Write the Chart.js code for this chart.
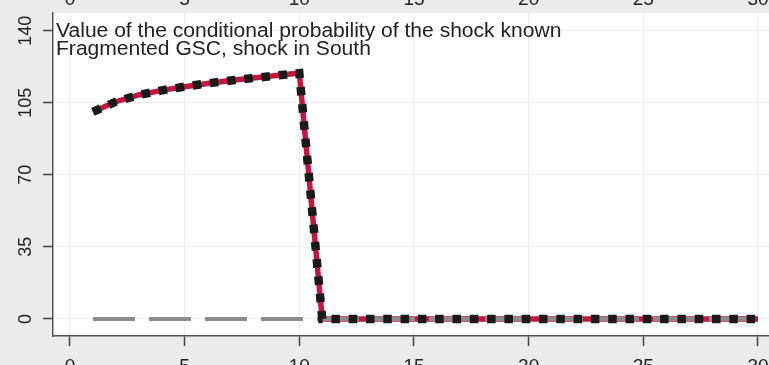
<!DOCTYPE html>
<html>
<head>
<meta charset="utf-8">
<script src="https://cdn.jsdelivr.net/npm/chart.js@4.4.1/dist/chart.umd.min.js"></script>
<style>
    html, body { margin: 0; padding: 0; background: #ebebeb; }
    #grafico { display: block; }
</style>
</head>
<body>
<canvas id="grafico" width="769" height="365"></canvas>
<script>
// Periodos (eje x)
const periodos = [1, 2, 3, 4, 5, 6, 7, 8, 9, 10, 11, 12, 13, 14, 15, 16, 17, 18, 19, 20, 21, 22, 23, 24, 25, 26, 27, 28, 29, 30]

// Valor de la probabilidad condicional, shock conocido
const valorShockConocido = [100.6, 105.5, 108.8, 111.0, 112.8, 114.4, 115.8, 117.0, 118.2, 119.4,
    0, 0, 0, 0, 0, 0, 0, 0, 0, 0, 0, 0, 0, 0, 0, 0, 0, 0, 0, 0]

// Linea de referencia (gris discontinua)
const valorReferencia = [0, 0, 0, 0, 0, 0, 0, 0, 0, 0, 0, 0, 0, 0, 0, 0, 0, 0, 0, 0, 0, 0, 0, 0, 0, 0, 0, 0, 0, 0]

const ticksX = [0, 5, 10, 15, 20, 25, 30]
const ticksY = [0, 35, 70, 105, 140]

const tituloLineas = ['Value of the conditional probability of the shock known', 'Fragmented GSC, shock in South']

const fuente = '"Liberation Sans", Arial, Helvetica, sans-serif'

const puntos = (valores) => periodos.map((p, i) => ({ x: p, y: valores[i] }))

//Fondo blanco del area del grafico
const fondoPlugin = {
    id: 'fondo',
    beforeDraw(chart) {
        const { ctx, chartArea } = chart
        ctx.save()
        ctx.fillStyle = '#ffffff'
        ctx.fillRect(chartArea.left, chartArea.top, chartArea.right - chartArea.left, chartArea.bottom - chartArea.top)
        ctx.restore()
    }
}

//Titulo dentro del grafico y etiquetas del eje y giradas
const textosPlugin = {
    id: 'textos',
    afterDraw(chart) {
        const { ctx, chartArea } = chart
        const escalaY = chart.scales.y

        ctx.save()
        ctx.fillStyle = '#222222'
        ctx.font = '18px ' + fuente
        ctx.textAlign = 'center'
        ctx.textBaseline = 'alphabetic'
        escalaY.ticks.forEach(t => {
            const y = escalaY.getPixelForValue(t.value)
            ctx.save()
            ctx.translate(30.5, y)
            ctx.rotate(-Math.PI / 2)
            ctx.fillText(String(t.value), 0, 0)
            ctx.restore()
        })
        ctx.restore()

        ctx.save()
        ctx.fillStyle = '#222222'
        ctx.font = '19.5px ' + fuente
        ctx.textAlign = 'left'
        ctx.textBaseline = 'alphabetic'
        tituloLineas.forEach((linea, i) => {
            ctx.save()
            ctx.translate(chartArea.left + 3, 36.5 + i * 18.5)
            ctx.scale(1.08, 1)
            ctx.fillText(linea, 0, 0)
            ctx.restore()
        })
        ctx.restore()
    }
}

const soloTicks = (lista) => (scale) => {
    scale.ticks = lista.map(v => ({ value: v }))
}

//Alto fijo del eje x y sin relleno lateral para que el area llegue al borde
const ajusteX = (alto) => (scale) => {
    scale.height = alto
    scale.paddingLeft = 0
    scale.paddingRight = 0
}

new Chart(document.getElementById('grafico'), {
    type: 'line',
    data: {
        datasets: [{
            label: 'Shock known (dots)',
            data: puntos(valorShockConocido),
            borderColor: '#1a1a1a',
            borderWidth: 8.5,
            borderDash: [8.5, 8.8],
            borderCapStyle: 'butt',
            pointRadius: 0,
            tension: 0,
            order: 0
        }, {
            label: 'Reference',
            data: puntos(valorReferencia),
            borderColor: '#8c8c8c',
            borderWidth: 4,
            borderDash: [42, 14],
            borderCapStyle: 'butt',
            pointRadius: 0,
            tension: 0,
            order: 1
        }, {
            label: 'Shock known',
            data: puntos(valorShockConocido),
            borderColor: '#c4163f',
            borderWidth: 5.5,
            pointRadius: 0,
            tension: 0,
            order: 2
        }]
    },
    options: {
        responsive: false,
        animation: false,
        devicePixelRatio: 1,
        layout: { padding: 0 },
        plugins: {
            legend: { display: false },
            tooltip: { enabled: false },
            title: { display: false }
        },
        scales: {
            x: {
                type: 'linear',
                position: 'bottom',
                min: -0.74,
                max: 30.48,
                afterBuildTicks: soloTicks(ticksX),
                afterFit: ajusteX(29),
                grid: { color: '#ececec', lineWidth: 1, tickColor: '#444444', tickLength: 10, tickWidth: 1.5 },
                border: { color: '#555555', width: 1.5 },
                ticks: { color: '#222222', font: { family: fuente, size: 19 }, padding: 9, maxRotation: 0, autoSkip: false }
            },
            xArriba: {
                type: 'linear',
                position: 'top',
                min: -0.74,
                max: 30.48,
                afterBuildTicks: soloTicks(ticksX),
                afterFit: ajusteX(13),
                grid: { display: false, drawTicks: false },
                border: { display: false },
                ticks: { color: '#222222', font: { family: fuente, size: 19 }, padding: 2, maxRotation: 0, autoSkip: false }
            },
            y: {
                type: 'linear',
                position: 'left',
                min: -8.3,
                max: 148.6,
                afterBuildTicks: soloTicks(ticksY),
                afterFit: (scale) => { scale.width = 53 },
                grid: { color: '#ececec', lineWidth: 1, tickColor: '#444444', tickLength: 10, tickWidth: 1.5 },
                border: { color: '#555555', width: 1.5 },
                ticks: { display: false }
            }
        }
    },
    plugins: [fondoPlugin, textosPlugin]
})
</script>
</body>
</html>
